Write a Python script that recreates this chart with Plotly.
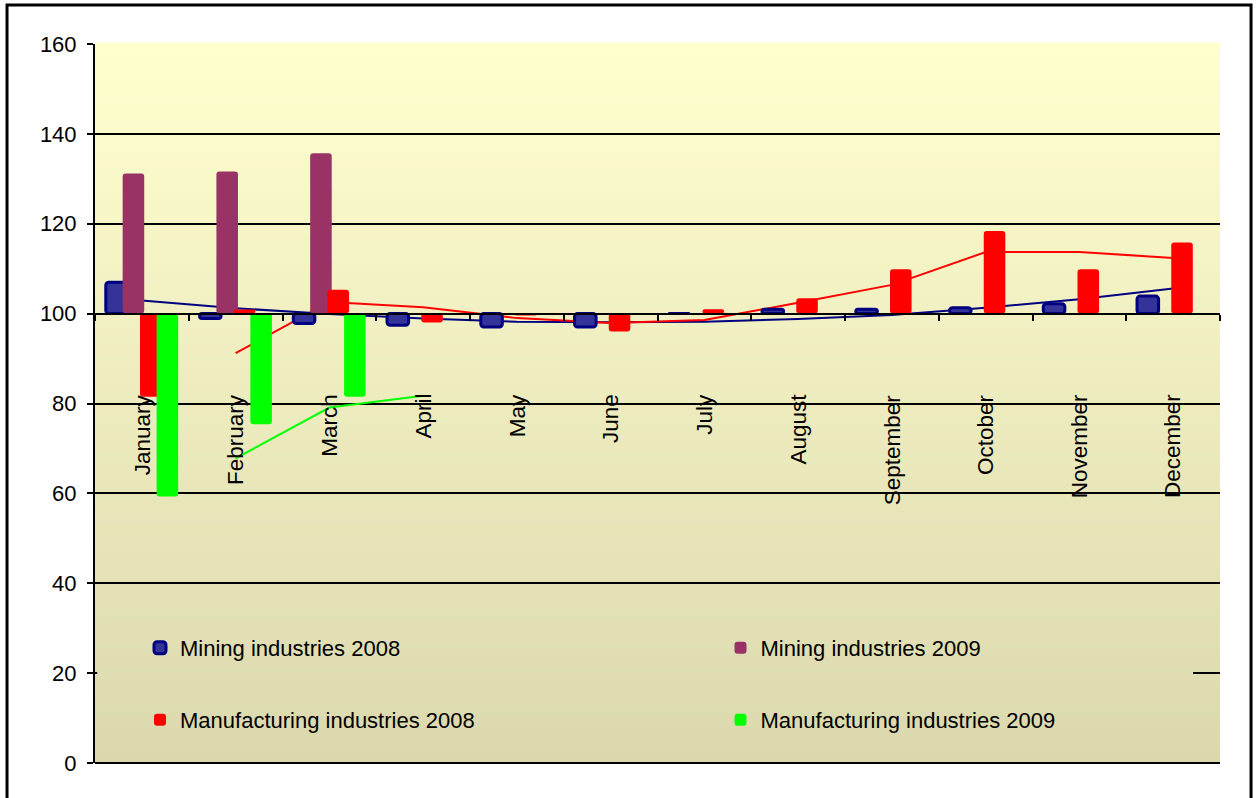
import plotly.graph_objects as go

# data (index, 100 = previous year level)
months = ["January", "February", "March", "April", "May", "June", "July",
          "August", "September", "October", "November", "December"]
mining_2008 = [107.0, 98.9, 97.8, 97.4, 97.0, 97.0, 100.0, 101.0, 101.0, 101.3, 102.2, 103.9]
mining_2009 = [131.2, 131.6, 135.7]
manuf_2008 = [81.5, 100.9, 105.3, 98.0, 99.6, 96.0, 101.0, 103.4, 109.9, 118.4, 109.9, 115.8]
manuf_2009 = [59.3, 75.4, 81.5]

# trend lines as drawn in the reference
mining_2008_trend = [102.9, 101.2, 99.9, 98.9, 98.2, 98.1, 98.2, 98.8, 99.7, 101.3, 103.2, 105.6]
manuf_2008_trend = [None, 91.2, 102.6, 101.4, 99.0, 97.9, 98.6, 102.4, 106.4, 113.7, 113.7, 112.4]
manuf_2009_trend = [None, 67.8, 79.1, 81.7]

FONT = "Liberation Sans, Arial, sans-serif"

fig = go.Figure()

# lines go underneath the bars (bars sit on overlaid axes)
fig.add_trace(go.Scatter(x=months, y=mining_2008_trend, mode="lines",
                         line=dict(color="#000080", width=2), showlegend=False, hoverinfo="skip"))
fig.add_trace(go.Scatter(x=months, y=manuf_2008_trend, mode="lines",
                         line=dict(color="#FF0000", width=2), showlegend=False, hoverinfo="skip"))
fig.add_trace(go.Scatter(x=months[:len(manuf_2009_trend)], y=manuf_2009_trend, mode="lines",
                         line=dict(color="#00FF00", width=2), showlegend=False, hoverinfo="skip"))

bars = [
    ("Mining industries 2008", mining_2008, "#333399", "#000080", 3, -0.385, "legend"),
    ("Mining industries 2009", mining_2009, "#993366", "#993366", 0, -0.205, "legend2"),
    ("Manufacturing industries 2008", manuf_2008, "#FF0000", "#FF0000", 0, -0.02, "legend3"),
    ("Manufacturing industries 2009", manuf_2009, "#00FF00", "#00FF00", 0, 0.157, "legend4"),
]
for name, vals, fill, edge, lw, off, leg in bars:
    fig.add_trace(go.Bar(
        x=months[:len(vals)], y=[v - 100 for v in vals], base=100,
        name=name, offset=off, width=0.23,
        marker=dict(color=fill, line=dict(color=edge, width=lw), cornerradius=3),
        xaxis="x2", yaxis="y2", legend=leg, hoverinfo="skip"))

# background gradient (light yellow to khaki)
top = (255, 255, 206)
bot = (219, 216, 174)
n = 60
shapes = []
for i in range(n):
    t = i / (n - 1)
    c = tuple(round(bot[k] + (top[k] - bot[k]) * t) for k in range(3))
    col = "rgb(%d,%d,%d)" % c
    y0, y1 = i / n, (i + 1) / n + 0.002
    shapes.append(dict(type="rect", xref="paper", yref="paper", x0=0, x1=1,
                       y0=y0, y1=y1, fillcolor=col,
                       line=dict(width=0), layer="below"))
    # opaque legend box hides the 20 gridline
    if y1 > 0.004 and y0 < 0.225:
        shapes.append(dict(type="rect", xref="paper", yref="paper", x0=0.002, x1=0.976,
                           y0=max(y0, 0.004), y1=min(y1, 0.225), fillcolor=col,
                           line=dict(width=0), layer="above"))
# outer frame
shapes.append(dict(type="rect", xref="paper", yref="paper", x0=-0.0782, x1=1.0276,
                   y0=-0.2, y1=1.0542, line=dict(color="black", width=3), layer="above"))
fig.update_layout(shapes=shapes)

# month labels, rotated, hanging below the 100 axis
for m in months:
    fig.add_annotation(x=m, y=82.6, xref="x", yref="y", text=m, textangle=-90,
                       showarrow=False, yanchor="top", xanchor="center",
                       font=dict(size=22.5, color="black", family=FONT))

leg_common = dict(orientation="v", xanchor="left", yanchor="middle",
                  bgcolor="rgba(0,0,0,0)", font=dict(size=22, color="black", family=FONT))

fig.update_layout(
    width=1256, height=798,
    margin=dict(l=95, r=36, t=44, b=35),
    paper_bgcolor="white",
    plot_bgcolor="rgba(0,0,0,0)",
    font=dict(family=FONT, size=22, color="black"),
    barmode="overlay",
    xaxis=dict(type="category", categoryorder="array", categoryarray=months,
               range=[-0.5, 11.5], anchor="free", position=0.625,
               showline=True, linecolor="black", linewidth=2,
               ticks="outside", ticklen=6, tickwidth=2, tickcolor="black",
               tickson="boundaries", showticklabels=False, showgrid=False,
               zeroline=False),
    yaxis=dict(range=[0, 160], dtick=20, tick0=0,
               showgrid=True, gridcolor="black", gridwidth=2,
               zeroline=True, zerolinecolor="black", zerolinewidth=2,
               showline=True, linecolor="black", linewidth=2,
               ticks="outside", ticklen=6, tickwidth=2, tickcolor="black",
               ticklabelstandoff=6, tickfont=dict(size=22)),
    xaxis2=dict(type="category", categoryorder="array", categoryarray=months,
                range=[-0.5, 11.5], overlaying="x", visible=False),
    yaxis2=dict(range=[0, 160], overlaying="y", visible=False),
    legend=dict(x=0.040, y=0.16, **leg_common),
    legend2=dict(x=0.556, y=0.16, **leg_common),
    legend3=dict(x=0.040, y=0.06, **leg_common),
    legend4=dict(x=0.556, y=0.06, **leg_common),
)

fig.write_html("out.html", config={"displayModeBar": False},
               post_script="document.body.style.margin='0';document.body.style.overflow='hidden';")
